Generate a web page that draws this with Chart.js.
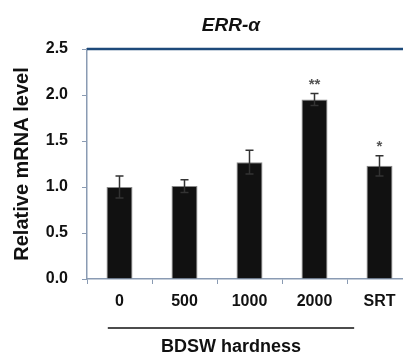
<!DOCTYPE html>
<html>
<head>
<meta charset="utf-8">
<script src="https://cdn.jsdelivr.net/npm/chart.js@4"></script>
<style>
  html, body { margin: 0; padding: 0; background: #fff; overflow: hidden; }
</style>
</head>
<body>
<canvas id="errChart" width="413" height="356"></canvas>
<script>
const groups = ["0", "500", "1000", "2000", "SRT"];
const means = [1.00, 1.01, 1.27, 1.95, 1.23];
const errors = [0.12, 0.07, 0.13, 0.065, 0.11];
const stars = ["", "", "", "**", "*"];
const yTicks = [0, 0.5, 1.0, 1.5, 2.0, 2.5];
const chartTitle = "ERR-α";
const xTitle = "BDSW hardness";
const yTitle = "Relative mRNA level";

const fontFam = "'Liberation Sans', Arial, sans-serif";

const extras = {
    id: "extras",
    afterDatasetsDraw(chart) {
        const c = chart.ctx;
        const x = chart.scales.x;
        const y = chart.scales.y;
        const area = chart.chartArea;

        // error bars
        c.save();
        c.strokeStyle = "#333";
        c.lineWidth = 1.5;
        means.forEach((m, i) => {
            const px = x.getPixelForValue(i);
            const top = y.getPixelForValue(m + errors[i]);
            const bot = y.getPixelForValue(m - errors[i]);
            c.beginPath();
            c.moveTo(px, top); c.lineTo(px, bot);
            c.moveTo(px - 4, top); c.lineTo(px + 4, top);
            c.moveTo(px - 4, bot); c.lineTo(px + 4, bot);
            c.stroke();
            if (stars[i]) {
                c.fillStyle = "#555";
                c.font = "bold 15px " + fontFam;
                c.textAlign = "center";
                c.textBaseline = "middle";
                c.fillText(stars[i], px, top - 9);
            }
        });

        // top border
        c.strokeStyle = "#1d4a7a";
        c.lineWidth = 2.5;
        c.beginPath();
        c.moveTo(area.left, area.top);
        c.lineTo(chart.width, area.top);
        c.stroke();

        // bracket line under the labels
        const catW = x.getPixelForValue(1) - x.getPixelForValue(0);
        const lx = x.getPixelForValue(0) - catW * 0.18;
        const rx = x.getPixelForValue(3) + catW * 0.61;
        c.strokeStyle = "#111";
        c.lineWidth = 1.5;
        c.beginPath();
        c.moveTo(lx, 328); c.lineTo(rx, 328);
        c.stroke();

        c.fillStyle = "#111";
        c.textAlign = "center";
        c.textBaseline = "middle";
        c.font = "bold 18px " + fontFam;
        c.fillText(xTitle, (lx + rx) / 2, 347);
        c.font = "italic bold 19px " + fontFam;
        c.fillText(chartTitle, (lx + rx) / 2, 26);
        c.restore();
    }
};

new Chart(document.getElementById("errChart"), {
    type: "bar",
    data: {
        labels: groups,
        datasets: [{
            data: means,
            backgroundColor: "#111",
            borderColor: "#8a8a8a",
            borderWidth: 1,
            barPercentage: 0.4,
            categoryPercentage: 1.0
        }]
    },
    options: {
        responsive: false,
        animation: false,
        layout: { padding: { top: 49, right: 1, left: 0, bottom: 0 } },
        plugins: { legend: { display: false }, tooltip: { enabled: false }, title: { display: false } },
        scales: {
            x: {
                afterFit(s) { s.height = 77; },
                grid: { offset: true, drawOnChartArea: false, tickLength: 5, color: "#8a9bb3" },
                border: { color: "#8a9bb3", width: 1.5 },
                ticks: { color: "#111", padding: 8, font: { family: fontFam, size: 16, weight: "bold" } }
            },
            y: {
                min: 0,
                max: 2.5,
                afterFit(s) { s.width = 87; },
                afterBuildTicks(s) { s.ticks = yTicks.map(v => ({ value: v })); },
                grid: { drawOnChartArea: false, tickLength: 5, color: "#8a9bb3" },
                border: { color: "#8a9bb3", width: 1.5 },
                ticks: {
                    color: "#111", padding: 14,
                    font: { family: fontFam, size: 16, weight: "bold" },
                    callback: v => v.toFixed(1)
                },
                title: {
                    display: true, text: yTitle, color: "#111",
                    font: { family: fontFam, size: 20, weight: "bold" },
                    padding: { top: 10, bottom: 0 }
                }
            }
        }
    },
    plugins: [extras]
});
</script>
</body>
</html>
